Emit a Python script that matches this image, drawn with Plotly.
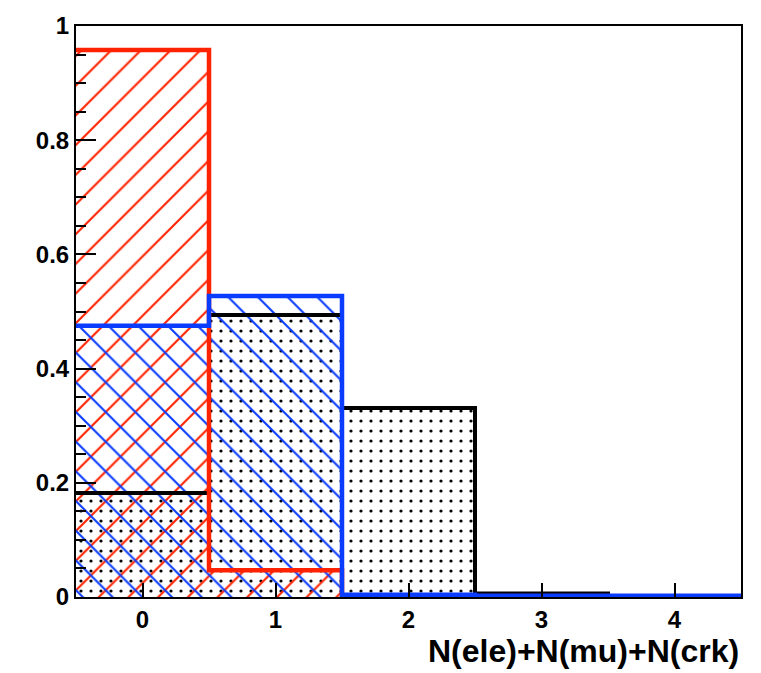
import plotly.graph_objects as go

# ---- data ----
bin_centers = [0, 1, 2, 3, 4]
bin_edges = [-0.5, 0.5, 1.5, 2.5, 3.5, 4.5]
black_vals = [0.182, 0.494, 0.331, 0.006, 0.0]
red_vals = [0.958, 0.047, 0.0, 0.0, 0.0]
blue_vals = [0.475, 0.527, 0.004, 0.002, 0.002]
x_title = "N(ele)+N(mu)+N(crk)"
y_tickvals = [0, 0.2, 0.4, 0.6, 0.8, 1.0]
y_ticktext = ["0", "0.2", "0.4", "0.6", "0.8", "1"]
x_tickvals = [0, 1, 2, 3, 4]

RED = "#ff2200"
BLUE = "#0a3cff"
BLACK = "#000000"

fig = go.Figure()

series = [
    (black_vals, BLACK, ".", 10, 4),
    (red_vals, RED, "/", 21, 4.5),
    (blue_vals, BLUE, "\\", 21, 4.5),
]

for vals, col, shape, psize, lw in series:
    fig.add_trace(go.Bar(
        x=bin_centers, y=vals, width=1,
        marker=dict(color=col, line=dict(width=0),
                    pattern=dict(shape=shape, fgcolor=col, bgcolor="rgba(0,0,0,0)",
                                 size=psize, solidity=0.1 if shape != "." else 0.08,
                                 fillmode="replace")),
        showlegend=False, hoverinfo="skip",
    ))

for vals, col, shape, psize, lw in series:
    fig.add_trace(go.Scatter(
        x=bin_edges, y=list(vals) + [vals[-1]],
        mode="lines", line=dict(color=col, width=lw, shape="hv"),
        showlegend=False, hoverinfo="skip",
    ))

tickfont = dict(family="Liberation Sans", size=24, color="black", weight="bold")

fig.update_layout(
    width=761, height=673,
    margin=dict(l=76, r=20, t=22, b=76),
    paper_bgcolor="white", plot_bgcolor="white",
    barmode="overlay",
    bargap=0,
    xaxis=dict(range=[-0.5, 4.5], tickvals=x_tickvals, ticks="inside", ticklen=14,
               tickwidth=1.5, tickcolor="black", showgrid=False, zeroline=False,
               showline=True, linecolor="black", linewidth=2, mirror=True,
               tickfont=tickfont, layer="above traces"),
    yaxis=dict(range=[0, 1], tickvals=y_tickvals, ticktext=y_ticktext, ticks="inside",
               ticklen=20, tickwidth=1.5, tickcolor="black", showgrid=False, zeroline=False,
               showline=True, linecolor="black", linewidth=2, mirror=True,
               tickfont=tickfont, layer="above traces",
               minor=dict(dtick=0.05, ticks="inside", ticklen=10, tickwidth=1.5,
                          tickcolor="black", showgrid=False)),
    annotations=[dict(text=x_title, xref="paper", yref="paper", x=1.0, y=-0.094,
                      xanchor="right", yanchor="middle", showarrow=False,
                      font=dict(family="Liberation Sans", size=32, color="black",
                                weight="bold"))],
)

fig.write_html("out.html")
